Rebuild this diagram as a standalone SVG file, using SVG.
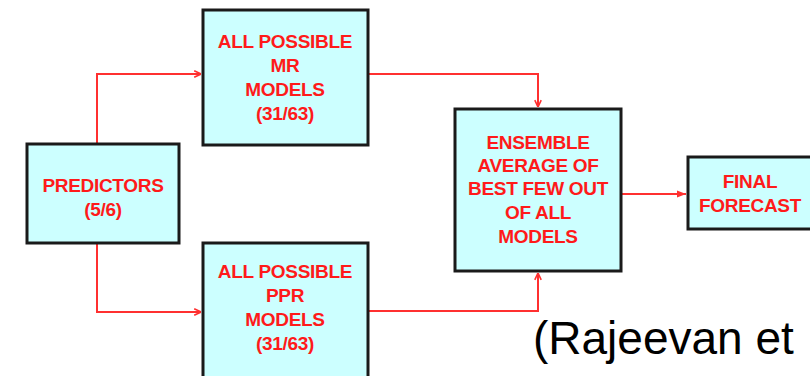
<svg xmlns="http://www.w3.org/2000/svg" width="810" height="376" viewBox="0 0 810 376">
<defs>
<style>
.box{fill:#ccffff;stroke:#1a1a1a;stroke-width:3}
.lbl{font-family:"Liberation Sans",Arial,sans-serif;font-weight:bold;font-size:19px;letter-spacing:-0.3px;fill:#ff1a1a;text-anchor:middle}
.edge{fill:none;stroke:#ff3030;stroke-width:2}
</style>
<marker id="open" viewBox="0 0 10 10" refX="9.5" refY="5" markerWidth="8" markerHeight="8" markerUnits="userSpaceOnUse" orient="auto"><path d="M1,1 L9.5,5 L1,9" fill="none" stroke="#ff3030" stroke-width="2"/></marker>
<marker id="fill" viewBox="0 0 10 10" refX="10" refY="5" markerWidth="9" markerHeight="9" markerUnits="userSpaceOnUse" orient="auto"><path d="M0,1 L10,5 L0,9 Z" fill="#ff3030"/></marker>
</defs>
<rect width="810" height="376" fill="#ffffff"/>
<g id="connectors">
<path class="edge" d="M97,144 V74 H201" marker-end="url(#open)"/>
<path class="edge" d="M97,243 V312 H201" marker-end="url(#open)"/>
<path class="edge" d="M368,74 H538 V107" marker-end="url(#open)"/>
<path class="edge" d="M368,311 H538 V273" marker-end="url(#open)"/>
<path class="edge" d="M621,194 H686" marker-end="url(#fill)"/>
</g>
<g id="predictors">
<rect class="box" x="27" y="144" width="152" height="99"/>
<text class="lbl" x="103" y="192">PREDICTORS</text>
<text class="lbl" x="103" y="216">(5/6)</text>
</g>
<g id="mr">
<rect class="box" x="203" y="10" width="165" height="135"/>
<text class="lbl" x="285" y="48">ALL POSSIBLE</text>
<text class="lbl" x="285" y="72">MR</text>
<text class="lbl" x="285" y="96">MODELS</text>
<text class="lbl" x="285" y="120">(31/63)</text>
</g>
<g id="ppr">
<rect class="box" x="203" y="243" width="165" height="140"/>
<text class="lbl" x="285" y="278">ALL POSSIBLE</text>
<text class="lbl" x="285" y="302">PPR</text>
<text class="lbl" x="285" y="326">MODELS</text>
<text class="lbl" x="285" y="350">(31/63)</text>
</g>
<g id="ensemble">
<rect class="box" x="455" y="109" width="166" height="162"/>
<text class="lbl" x="538" y="149">ENSEMBLE</text>
<text class="lbl" x="538" y="172">AVERAGE OF</text>
<text class="lbl" x="538" y="195">BEST FEW OUT</text>
<text class="lbl" x="538" y="219">OF ALL</text>
<text class="lbl" x="538" y="243">MODELS</text>
</g>
<g id="final">
<rect class="box" x="688" y="157" width="130" height="72"/>
<text class="lbl" x="750" y="188">FINAL</text>
<text class="lbl" x="750" y="212">FORECAST</text>
</g>
<text x="533" y="354" font-family="Liberation Sans,Arial,sans-serif" font-size="46" fill="#000000">(Rajeevan et</text>
</svg>
